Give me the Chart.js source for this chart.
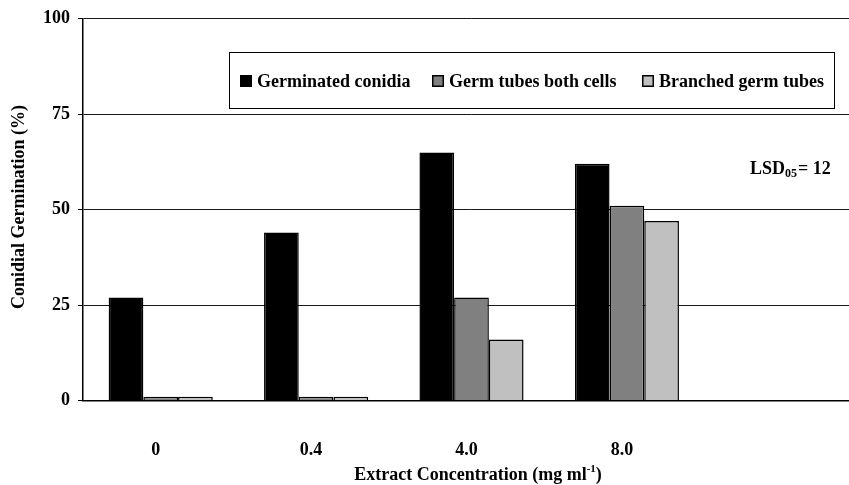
<!DOCTYPE html>
<html><head><meta charset="utf-8">
<script src="https://cdn.jsdelivr.net/npm/chart.js@4.4.0/dist/chart.umd.min.js"></script>
<style>html,body{margin:0;padding:0;background:#fff;overflow:hidden;width:849px;height:485px}</style>
</head><body>
<canvas id="c" width="860" height="485"></canvas>
<script>
// ---- data ----
const categories = ['0', '0.4', '4.0', '8.0', ''];
const germinatedConidia = [27, 44, 65, 62];
const germTubesBothCells = [1, 1, 27, 51];
const branchedGermTubes = [1, 1, 16, 47];
const seriesNames = ['Germinated conidia', 'Germ tubes both cells', 'Branched germ tubes'];
const seriesColors = ['#000000', '#808080', '#c0c0c0'];
const yTickValues = [0, 25, 50, 75, 100];
const yTitle = 'Conidial Germination (%)';
const xTitleMain = 'Extract Concentration (mg ml';
const xTitleSup = '-1';
const xTitleEnd = ')';
const lsdMain = 'LSD';
const lsdSub = '05';
const lsdValue = '= 12';

const FONT = '"Liberation Serif", "Times New Roman", serif';

const overlay = {
  id: 'overlay',
  afterDraw(chart) {
    const ctx = chart.ctx;
    ctx.save();
    // legend box
    const bx = 229, by = 52, bw = 605, bh = 56;
    ctx.fillStyle = '#fff';
    ctx.fillRect(bx, by, bw, bh);
    ctx.strokeStyle = '#000';
    ctx.lineWidth = 1;
    ctx.strokeRect(bx + 0.5, by + 0.5, bw, bh);
    const itemX = [240, 432, 642];
    ctx.font = 'bold 18px ' + FONT;
    ctx.textBaseline = 'middle';
    ctx.textAlign = 'left';
    chart.data.datasets.forEach((ds, i) => {
      const x = itemX[i], yc = 81;
      ctx.fillStyle = ds.backgroundColor;
      ctx.fillRect(x, yc - 6, 12, 12);
      ctx.strokeStyle = '#000';
      ctx.lineWidth = 1.5;
      ctx.strokeRect(x + 0.75, yc - 5.25, 10.5, 10.5);
      ctx.fillStyle = '#000';
      ctx.fillText(ds.label, x + 17, yc + 1);
    });
    // LSD label
    ctx.fillStyle = '#000';
    ctx.textBaseline = 'alphabetic';
    let lx = 750, ly = 174;
    ctx.font = 'bold 18px ' + FONT;
    ctx.fillText(lsdMain, lx, ly);
    lx += ctx.measureText(lsdMain).width;
    ctx.font = 'bold 12px ' + FONT;
    ctx.fillText(lsdSub, lx, ly + 3);
    lx += ctx.measureText(lsdSub).width + 1;
    ctx.font = 'bold 18px ' + FONT;
    ctx.fillText(lsdValue, lx, ly);
    // x title
    ctx.font = 'bold 18px ' + FONT;
    const w1 = ctx.measureText(xTitleMain).width;
    ctx.font = 'bold 11px ' + FONT;
    const w2 = ctx.measureText(xTitleSup).width;
    ctx.font = 'bold 18px ' + FONT;
    const w3 = ctx.measureText(xTitleEnd).width;
    let tx = 478 - (w1 + w2 + w3) / 2, ty = 480;
    ctx.fillText(xTitleMain, tx, ty);
    ctx.font = 'bold 11px ' + FONT;
    ctx.fillText(xTitleSup, tx + w1, ty - 8);
    ctx.font = 'bold 18px ' + FONT;
    ctx.fillText(xTitleEnd, tx + w1 + w2, ty);
    // y title
    ctx.translate(19, 207);
    ctx.rotate(-Math.PI / 2);
    ctx.textAlign = 'center';
    ctx.textBaseline = 'middle';
    ctx.font = 'bold 18px ' + FONT;
    ctx.fillText(yTitle, 0, 0);
    ctx.restore();
  }
};

new Chart(document.getElementById('c'), {
  type: 'bar',
  data: {
    labels: categories,
    datasets: [
      { label: seriesNames[0], data: germinatedConidia, backgroundColor: seriesColors[0] },
      { label: seriesNames[1], data: germTubesBothCells, backgroundColor: seriesColors[1] },
      { label: seriesNames[2], data: branchedGermTubes, backgroundColor: seriesColors[2] }
    ].map(d => Object.assign(d, { borderColor: '#000', borderWidth: 1.5, barPercentage: 1, categoryPercentage: 0.67 }))
  },
  options: {
    responsive: false,
    animation: false,
    devicePixelRatio: 1,
    layout: { padding: { top: 17.5, right: 0, left: 0, bottom: 0 } },
    plugins: { legend: { display: false }, tooltip: { enabled: false }, title: { display: false } },
    scales: {
      x: {
        grid: { display: false },
        border: { display: true, color: '#000', width: 1.5 },
        ticks: { color: '#000', font: { family: FONT, weight: 'bold', size: 18 }, padding: 31, labelOffset: -5, maxRotation: 0, autoSkip: false },
        afterFit: s => { s.height = 84.5; }
      },
      y: {
        min: 0, max: 100,
        afterBuildTicks: s => { s.ticks = yTickValues.map(v => ({ value: v })); },
        grid: { color: '#1a1a1a', lineWidth: 1, drawTicks: true, tickLength: 5, tickColor: '#000' },
        border: { display: true, color: '#000', width: 1.5 },
        ticks: { color: '#000', font: { family: FONT, weight: 'bold', size: 18 }, padding: 8 },
        afterFit: s => { s.width = 83; }
      }
    }
  },
  plugins: [overlay]
});
</script>
</body></html>
